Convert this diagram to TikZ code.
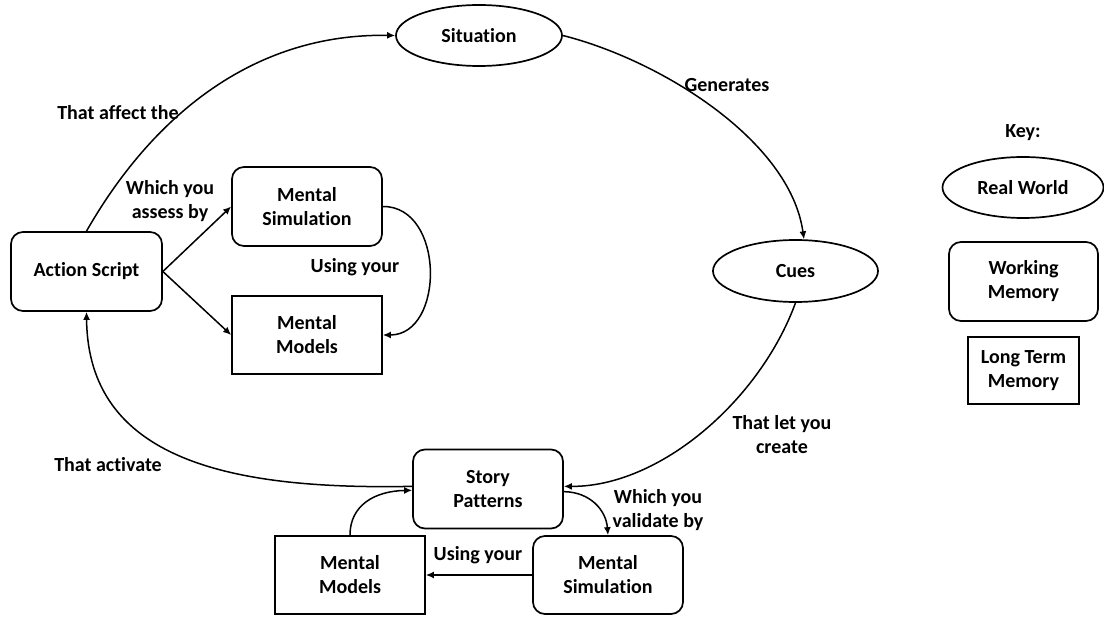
\documentclass[tikz,border=0pt]{standalone}
\usepackage{fontspec}
\setmainfont{Carlito}[Ligatures=NoCommon]
\usetikzlibrary{shapes.geometric,arrows.meta}
\tikzset{
  every node/.style={font=\bfseries\fontsize{20}{24}\selectfont, align=center, inner sep=0pt},
  world/.style={draw, ellipse, line width=1.7pt, minimum width=166pt, minimum height=61pt},
  wmem/.style={draw, rectangle, rounded corners=12pt, line width=1.7pt, minimum width=150pt, minimum height=79pt},
  ltmem/.style={draw, rectangle, line width=1.7pt, minimum width=150pt, minimum height=78pt},
  conn/.style={line width=1.5pt, -{Latex[length=8pt,width=7pt]}},
  lbl/.style={}
}
\begin{document}
\begin{tikzpicture}[x=1pt,y=-1pt]
\useasboundingbox (0,0) rectangle (1104,617);
% main cycle
\node[world] (sit) at (479,35.5) {Situation};
\node[world, minimum width=165pt, minimum height=62pt] (cues) at (795.5,271) {Cues};
\node[wmem, minimum width=151pt] (act) at (86.5,271.5) {Action Script};
\node[wmem] (sp) at (488,489) {Story\\Patterns};
% upper sub-loop
\node[wmem] (ms1) at (307,206.5) {Mental\\Simulation};
\node[ltmem] (mm1) at (307,335) {Mental\\Models};
% lower sub-loop
\node[ltmem] (mm2) at (350,575) {Mental\\Models};
\node[wmem, minimum height=78pt] (ms2) at (608,575) {Mental\\Simulation};
% key
\node (key) at (1023,133) {Key:};
\node[world, minimum width=161pt] (rw) at (1023,187.5) {Real World};
\node[wmem, minimum width=149pt] (wm) at (1023.5,281.5) {Working\\Memory};
\node[ltmem, minimum width=111pt, minimum height=67pt] (ltm) at (1023.5,370.5) {Long Term\\Memory};
% connectors
\draw[conn] (act.north) .. controls (150,120) and (250,33) .. (sit.west);
\draw[conn] (sit.east) .. controls (660,60) and (790,140) .. (cues.75);
\draw[conn] (cues.south) .. controls (760,400) and (660,487) .. (sp.2);
\draw[conn] (sp.178) .. controls (230,490) and (88,460) .. (act.south);
\draw[conn] (act.east) -- (ms1.west);
\draw[conn] (act.east) -- (mm1.west);
\draw[conn] (ms1.east) .. controls (445,206) and (445,335) .. (mm1.east);
\draw[conn] (sp.-2) .. controls (590,492) and (606,510) .. (ms2.north);
\draw[conn] (ms2.west) -- (mm2.east);
\draw[conn] (mm2.north) .. controls (350,505) and (375,491) .. (sp.181);
% labels
\node[lbl] (l1) at (118,113) {That affect the};
\node[lbl] (l2) at (170,201) {Which you\\assess by};
\node[lbl] (l3) at (727,85) {Generates};
\node[lbl] (l4) at (355,267) {Using your};
\node[lbl] (l5) at (782,435) {That let you\\create};
\node[lbl] (l6) at (108,465) {That activate};
\node[lbl] (l7) at (658,510) {Which you\\validate by};
\node[lbl] (l8) at (478,555) {Using your};
\end{tikzpicture}
\end{document}
